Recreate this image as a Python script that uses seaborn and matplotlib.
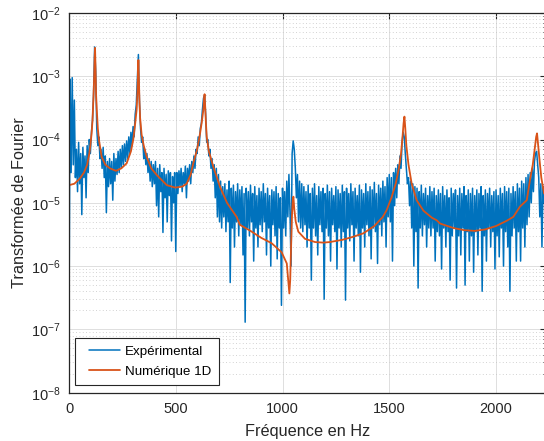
import numpy as np
import pandas as pd
import seaborn as sns
import matplotlib
matplotlib.use("Agg")
import matplotlib.pyplot as plt
from matplotlib.lines import Line2D
from matplotlib.legend_handler import HandlerLine2D
from matplotlib.ticker import LogLocator, NullFormatter

# Experimental spectrum, one value every 5 Hz from 0 Hz, in units of 1e-6
exp_step_hz = 5
exp_amp = [
    # 0 - 95 Hz
    0.12, 900, 30, 950, 40, 420, 25, 70, 15, 90, 20, 60, 6.5, 75, 25, 55, 12, 80, 30, 100,
    # 100 - 195 Hz
    60, 130, 200, 500, 2900, 1200, 150, 80, 110, 50, 70, 35, 75, 25, 55, 7, 45, 18, 50, 20,
    # 200 - 295 Hz
    45, 11, 60, 22, 50, 28, 65, 30, 70, 35, 80, 40, 85, 45, 95, 50, 110, 60, 130, 80,
    # 300 - 395 Hz
    160, 110, 250, 350, 900, 2200, 400, 150, 90, 110, 50, 70, 40, 60, 30, 50, 22, 45, 18, 40,
    # 400 - 495 Hz
    20, 45, 9, 35, 6, 40, 15, 30, 3.4, 35, 12, 28, 5, 32, 13, 30, 2.5, 26, 10, 30,
    # 500 - 595 Hz
    1.7, 30, 14, 32, 18, 35, 15, 30, 20, 38, 12, 35, 22, 40, 20, 45, 30, 55, 35, 70,
    # 600 - 695 Hz
    60, 110, 80, 150, 180, 300, 450, 500, 250, 90, 100, 55, 70, 35, 50, 22, 40, 12, 35, 6,
    # 700 - 795 Hz
    28, 5, 22, 4, 18, 6, 20, 3.5, 16, 5, 22, 0.55, 17, 4, 19, 2, 15, 5, 20, 3,
    # 800 - 895 Hz
    16, 4.5, 18, 1.5, 14, 0.13, 17, 4, 15, 3, 19, 5, 14, 1.2, 18, 4, 13, 2, 17, 4.5,
    # 900 - 995 Hz
    15, 3.5, 20, 5, 14, 1.5, 17, 4, 13, 1.0, 16, 4.5, 15, 3, 18, 1.3, 14, 4, 12, 0.24,
    # 1000 - 1095 Hz
    17, 4, 15, 3, 22, 6, 28, 7, 1.0, 60, 95, 70, 35, 12, 28, 5, 22, 4, 20, 3.5,
    # 1100 - 1195 Hz
    18, 4.5, 15, 2, 19, 4, 14, 0.6, 17, 4, 20, 3, 13, 1.5, 18, 4.5, 15, 3.5, 17, 0.3,
    # 1200 - 1295 Hz
    14, 4, 19, 3, 15, 1.2, 17, 4.5, 13, 3.5, 18, 0.9, 16, 4, 14, 2, 19, 3.5, 15, 0.29,
    # 1300 - 1395 Hz
    17, 4, 14, 2.5, 20, 4.5, 15, 1.2, 17, 4, 13, 3, 19, 0.8, 16, 4, 14, 2, 20, 4.5,
    # 1400 - 1495 Hz
    15, 3, 18, 1.3, 16, 4, 21, 3.5, 14, 1.1, 19, 4.5, 17, 3, 22, 5, 18, 2, 25, 6,
    # 1500 - 1595 Hz
    28, 5, 25, 1.2, 30, 9, 35, 12, 40, 20, 55, 35, 90, 130, 110, 60, 35, 20, 25, 9,
    # 1600 - 1695 Hz
    22, 4, 20, 1.0, 18, 3.5, 17, 0.45, 15, 4, 19, 3, 14, 4.5, 17, 2, 13, 4, 18, 3,
    # 1700 - 1795 Hz
    15, 4, 17, 1.2, 13, 3.5, 16, 3, 14, 0.9, 18, 4, 13, 2, 16, 3.5, 12, 0.6, 17, 3,
    # 1800 - 1895 Hz
    14, 4, 16, 0.45, 13, 3, 17, 1.5, 14, 4, 18, 0.5, 13, 3.5, 16, 1.2, 14, 3, 17, 0.8,
    # 1900 - 1995 Hz
    13, 3.5, 16, 1.5, 14, 4, 18, 0.4, 13, 3, 16, 1.2, 14, 4, 17, 2, 13, 3.5, 15, 0.9,
    # 2000 - 2095 Hz
    16, 3, 13, 1.4, 17, 4, 14, 1.0, 18, 3.5, 15, 2, 17, 0.4, 14, 3, 18, 4, 15, 1.2,
    # 2100 - 2195 Hz
    20, 3.5, 17, 1.2, 22, 4, 20, 2, 25, 4.5, 28, 6, 30, 10, 35, 15, 45, 60, 65, 40,
    # 2200 - 2225 Hz
    25, 6, 20, 2, 18, 10,
]

# 1D numerical model, in units of 1e-6
num_freq = [
    0, 25, 50, 70, 85, 95, 100, 106, 110, 114, 117, 120, 122, 124, 127, 130, 135, 140,
    153, 170, 192, 220, 245, 270, 290, 301, 310, 317, 321, 323, 325, 327, 330, 333,
    340, 350, 364, 385, 411, 458, 497, 530, 551, 570, 582, 600, 614, 622, 629, 633,
    635, 637, 641, 645, 655, 676, 707, 740, 785, 800, 850, 900, 949, 996, 1020, 1032,
    1036, 1040, 1044, 1048, 1051, 1055, 1062, 1074, 1105, 1152, 1191, 1222, 1280, 1330,
    1379, 1430, 1470, 1488, 1510, 1530, 1545, 1555, 1562, 1567, 1571, 1575, 1580, 1590,
    1605, 1628, 1660, 1700, 1722, 1738, 1800, 1850, 1900, 1950, 2000, 2050, 2081, 2112,
    2144, 2159, 2172, 2182, 2188, 2192, 2196, 2203, 2212, 2225,
]
num_amp = [
    19, 20, 24, 30, 40, 60, 80, 126, 200, 420, 800, 2000, 2800, 1500, 500, 300, 150, 100,
    53, 40, 35, 32, 35, 42, 65, 100, 180, 300, 600, 1100, 1800, 1000, 400, 220,
    120, 80, 53, 35, 27.5, 19, 17.4, 18, 20, 28, 42, 70, 126, 190, 290, 450,
    520, 380, 190, 110, 65, 37, 18, 10, 6, 4.5, 3.6, 2.8, 2.3, 1.65, 1.1, 0.37,
    0.6, 2.0, 6, 11, 12.5, 8, 5, 3.5, 2.7, 2.4, 2.35, 2.4, 2.6, 2.9,
    3.3, 4.3, 6, 7.7, 12, 20, 35, 60, 110, 180, 230, 150, 80, 40,
    20, 11, 7.5, 5.8, 5.3, 4.7, 4.0, 3.7, 3.6, 3.8, 4.3, 5.2, 6, 8.7,
    11, 23, 40, 75, 110, 125, 90, 50, 25, 14,
]

series_labels = ["Expérimental", "Numérique 1D"]
x_label = "Fréquence en Hz"
y_label = "Transformée de Fourier"

exp_df = pd.DataFrame({
    "freq": np.arange(len(exp_amp)) * exp_step_hz,
    "amp": np.array(exp_amp) * 1e-6,
})
num_df = pd.DataFrame({
    "freq": num_freq,
    "amp": np.array(num_amp) * 1e-6,
})

sns.set_style("white")
plt.rcParams["font.family"] = ["Liberation Sans", "DejaVu Sans"]
plt.rcParams["mathtext.default"] = "regular"

axis_col = "#262626"
fig = plt.figure(figsize=(5.44, 4.41), dpi=100)
ax = fig.add_axes([69 / 544, 48.3 / 441, 477 / 544, 379.8 / 441])

sns.lineplot(exp_df, x="freq", y="amp", ax=ax, color="#0072BD", linewidth=1.1,
             estimator=None, sort=False, label=series_labels[0])
sns.lineplot(num_df, x="freq", y="amp", ax=ax, color="#D95319", linewidth=1.3,
             estimator=None, sort=False, label=series_labels[1])

ax.set_yscale("log")
ax.set_ylim(1e-8, 1e-2)
ax.set_xlim(0, 2234)
ax.set_xticks([0, 500, 1000, 1500, 2000])
ax.yaxis.set_major_locator(LogLocator(base=10, numticks=10))
ax.yaxis.set_minor_locator(LogLocator(base=10, subs=np.arange(2, 10), numticks=20))
ax.yaxis.set_minor_formatter(NullFormatter())

# grid in the Matlab way
ax.grid(True, which="major", color="#dedede", linewidth=0.7, linestyle="-")
ax.grid(True, which="minor", axis="y", color="#c4c4c4", linewidth=0.6, linestyle=(0, (1, 3)))
ax.set_axisbelow(True)

for side in ["left", "bottom", "top", "right"]:
    ax.spines[side].set_color(axis_col)
    ax.spines[side].set_linewidth(0.9)
ax.tick_params(which="both", direction="in", top=True, right=True, colors=axis_col,
               labelsize=10.5, labelcolor=axis_col)
ax.tick_params(which="major", length=4)
ax.tick_params(axis="x", which="major", pad=6.5)
ax.tick_params(axis="y", which="major", pad=6)
ax.tick_params(which="minor", length=2.5)

ax.set_xlabel(x_label, fontsize=11.7, color=axis_col, labelpad=6)
ax.set_ylabel(y_label, fontsize=11.7, color=axis_col, labelpad=3)

leg = ax.legend(loc="lower left", bbox_to_anchor=(6 / 477, 7.7 / 379.8), borderaxespad=0,
                fontsize=9.6, frameon=True, fancybox=False, framealpha=1,
                handlelength=2.8, handletextpad=0.4, borderpad=0.55, labelspacing=0.55,
                handler_map={Line2D: HandlerLine2D(xpad=0.5)})
leg.get_frame().set_edgecolor("#262626")
leg.get_frame().set_linewidth(0.8)
for t in leg.get_texts():
    t.set_color("#000000")

fig.savefig("out.png", dpi=100)
